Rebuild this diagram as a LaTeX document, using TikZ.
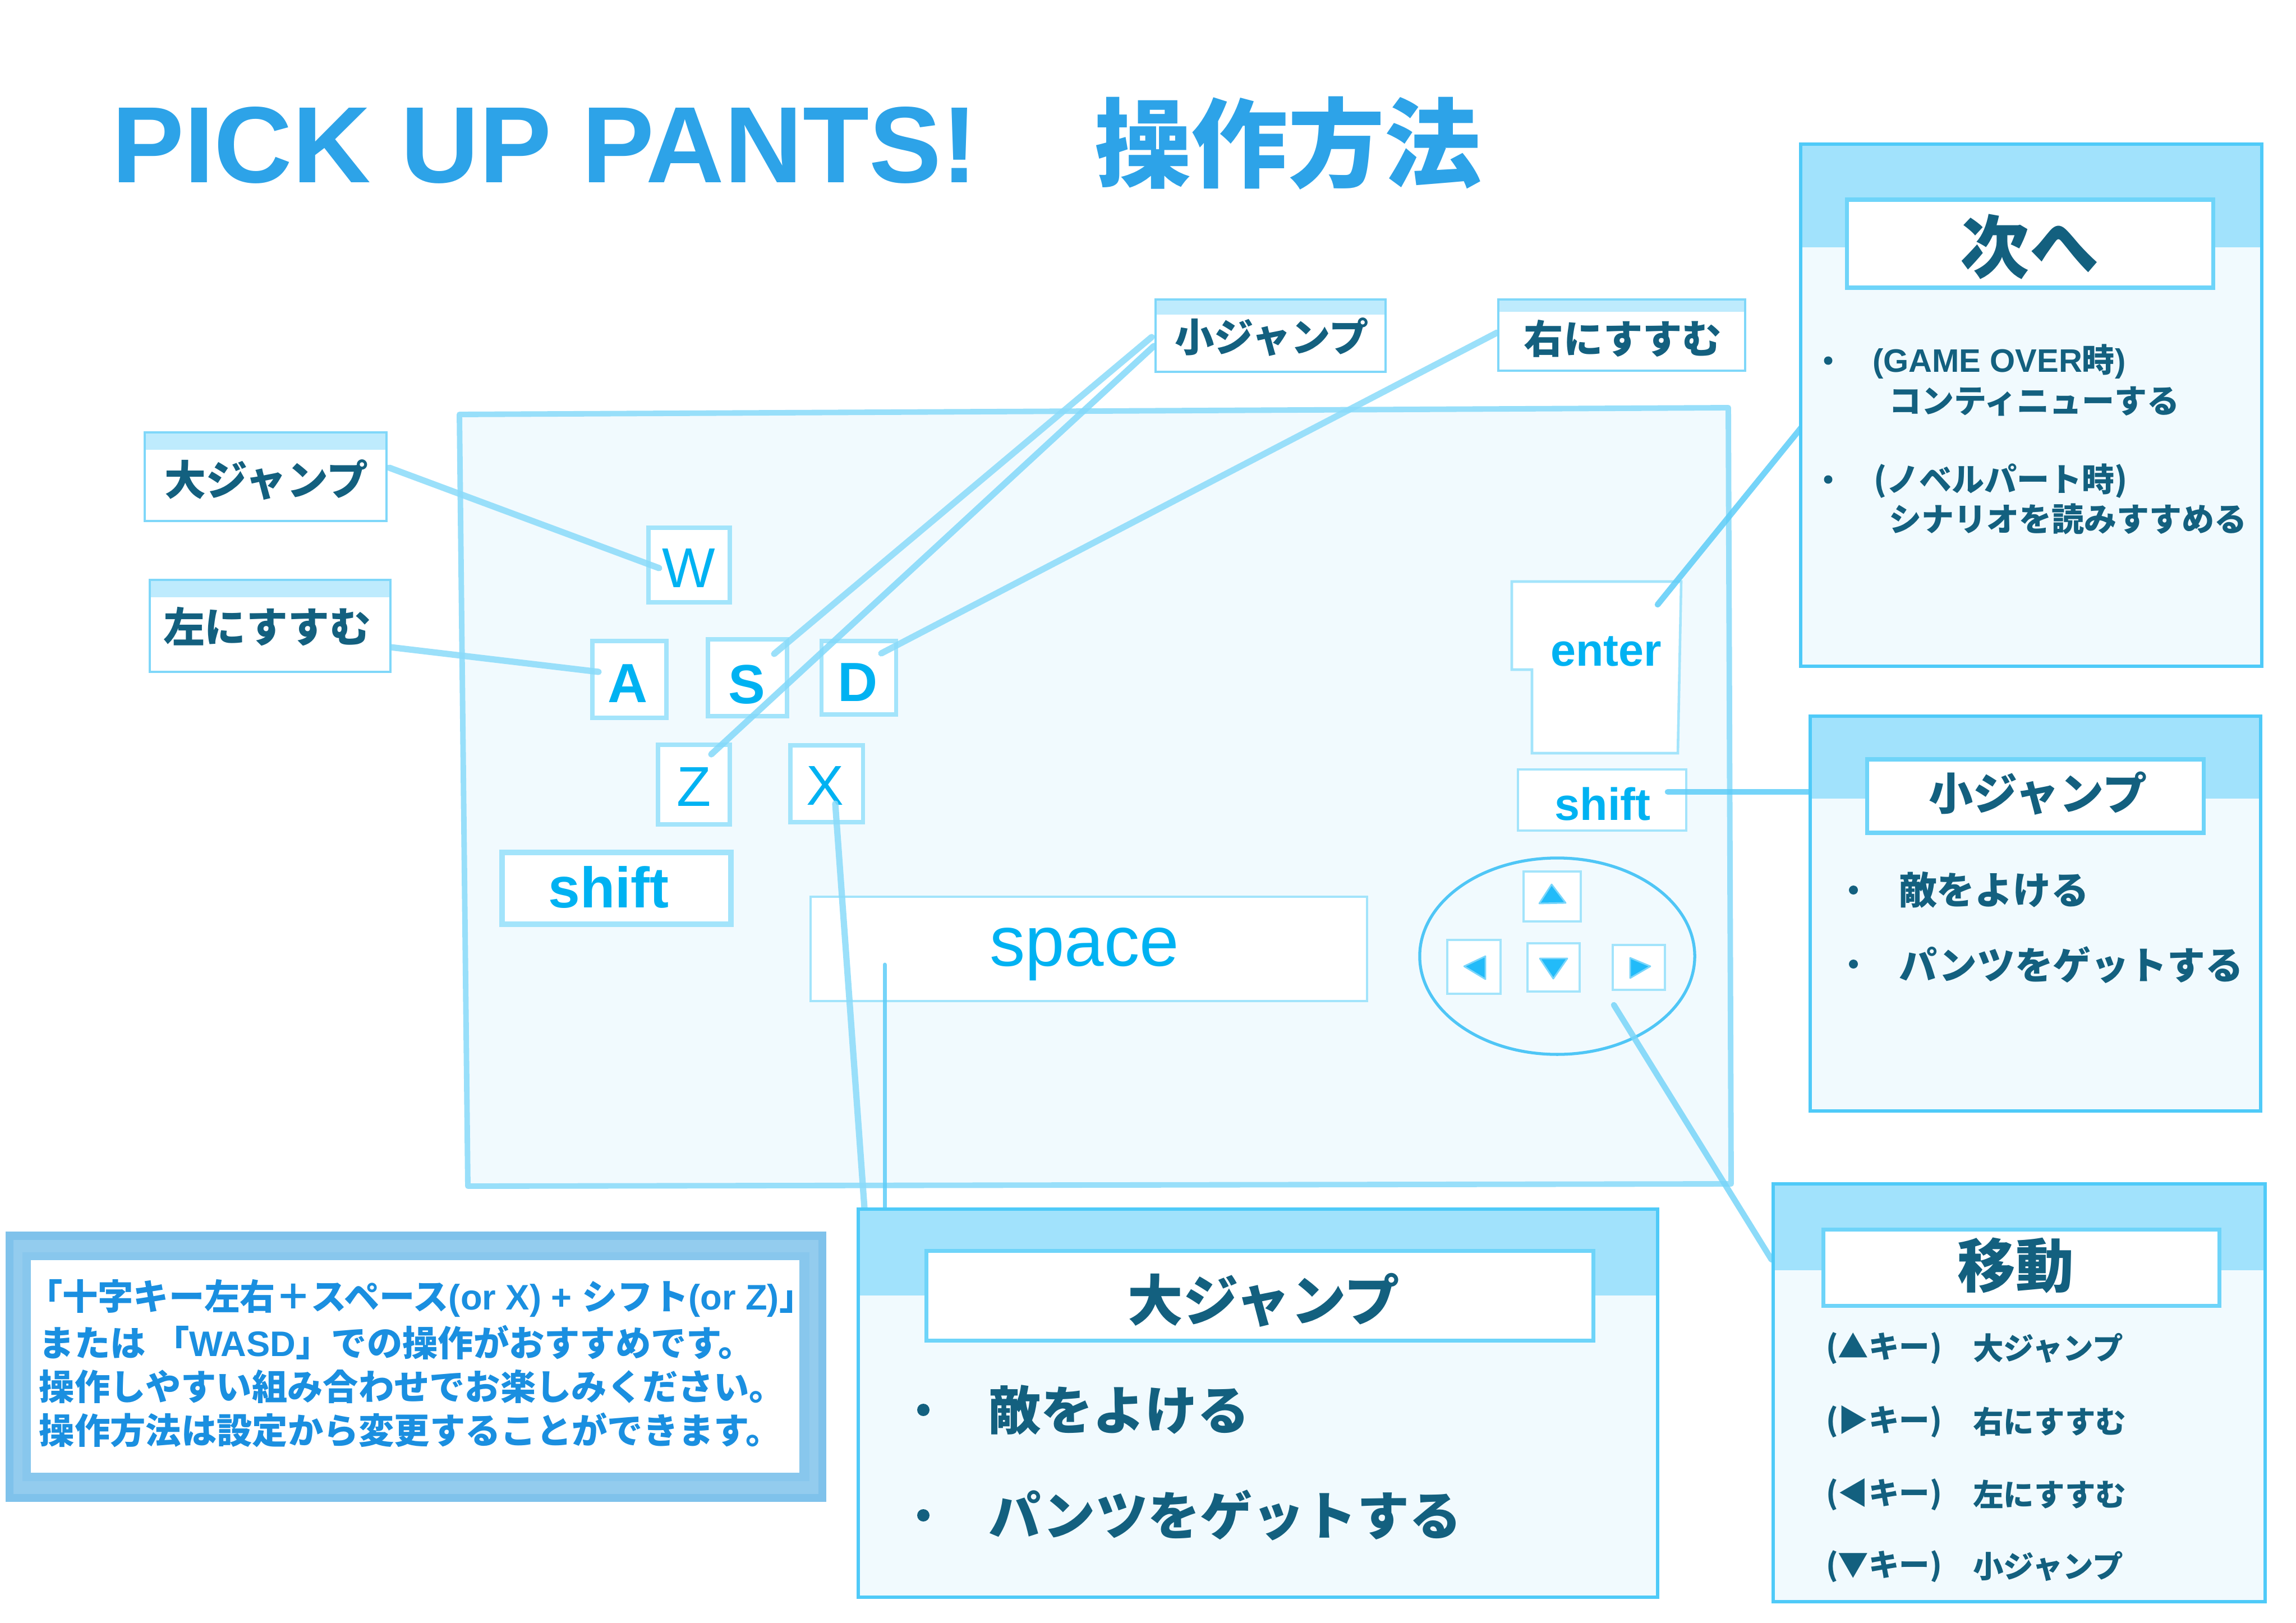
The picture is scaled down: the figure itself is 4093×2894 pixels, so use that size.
\documentclass[tikz,border=0pt]{standalone}
\usepackage{fontspec}
\usetikzlibrary{fit,shapes.geometric}
\newfontfamily\jp{Noto Sans CJK JP}
\newfontfamily\lat{Liberation Sans}
\newcommand\fsz[1]{\fontsize{#1pt}{#1pt}\selectfont}
\definecolor{ttl}{HTML}{2DA3E8}
\definecolor{dark}{HTML}{13607F}
\definecolor{keycol}{HTML}{00B2F2}
\definecolor{connc}{HTML}{8ADBFA}
\definecolor{conntwo}{HTML}{5ECDF8}
\definecolor{framec}{HTML}{98DFFA}
\definecolor{bodyf}{HTML}{F1FAFE}
\definecolor{bandc}{HTML}{A1E2FC}
\definecolor{pborder}{HTML}{4FCAF8}
\definecolor{ibord}{HTML}{6ED4F9}
\definecolor{lband}{HTML}{BEEBFD}
\definecolor{lbord}{HTML}{7FD7F9}
\definecolor{kbord}{HTML}{A3E4FB}
\definecolor{ellc}{HTML}{4FC6F6}
\definecolor{tric}{HTML}{22BBF9}
\definecolor{notec}{HTML}{1A8FE0}
\definecolor{nbone}{HTML}{7FC2EB}
\definecolor{nbtwo}{HTML}{93CCEE}
\definecolor{nbthree}{HTML}{88C7ED}
\tikzset{
  every node/.style={inner sep=0pt, outer sep=0pt},
  keybox/.style={draw=kbord, line width=2pt, fill=white},
  thinkey/.style={draw=kbord, line width=1.3pt, fill=white},
  labbox/.style={draw=lbord, line width=1.2pt},
  panbox/.style={draw=pborder, line width=1.8pt},
  ttlbox/.style={draw=ibord, line width=2pt, fill=white},
  conn/.style={draw=connc, line width=3.2pt, line cap=round, opacity=0.85},
  conntw/.style={draw=conntwo, line width=3pt, line cap=round, opacity=0.85},
  keytxt/.style={text=keycol, anchor=base},
  jdark/.style={text=dark},
  tri/.style={fill=tric, draw=tric!60, line width=0.8pt, line join=round},
  dot/.style={circle, fill=dark, draw=none},
}
\begin{document}
\begin{tikzpicture}[x=0.01cm,y=-0.01cm]
\useasboundingbox (0,0) rectangle (4093,2894);
\fill[white] (0,0) rectangle (4093,2894);

% title
\node[anchor=base west, text=ttl, font=\lat\bfseries\fsz{55}] (title) at (199,326) {PICK UP PANTS!};
\node[text=ttl, font=\jp\bfseries\fsz{49}] (titlejp) at (2296,255) {操作方法};

% keyboard frame
\filldraw[fill=bodyf, draw=framec, line width=2.8pt, line join=round]
  (819,739) coordinate (kbNW) -- (3081,727) coordinate (kbNE) -- (3086,2111) coordinate (kbSE) -- (834,2115) coordinate (kbSW) -- cycle;

% letter keys
\node[keybox, fit={(1156,941)(1301,1074)}] (Wk) {};
\node[keybox, fit={(1056,1143)(1188,1280)}] (Ak) {};
\node[keybox, fit={(1262,1140)(1403,1277)}] (Sk) {};
\node[keybox, fit={(1464,1143)(1597,1274)}] (Dk) {};
\node[keybox, fit={(1173,1328)(1301,1470)}] (Zk) {};
\node[keybox, fit={(1409,1329)(1538,1466)}] (Xk) {};
\node[draw=kbord, line width=3pt, fill=white, fit={(895,1520)(1303,1648)}] (lshiftk) {};
\node[keytxt, font=\lat\fsz{28.5}] (Wt) at (1228,1047) {W};
\node[keytxt, font=\lat\bfseries\fsz{28}] (At) at (1119,1252) {A};
\node[keytxt, font=\lat\bfseries\fsz{28}] (St) at (1331,1254) {S};
\node[keytxt, font=\lat\bfseries\fsz{28}] (Dt) at (1529,1250) {D};
\node[keytxt, font=\lat\fsz{28.5}] (Zt) at (1237,1437) {Z};
\node[keytxt, font=\lat\fsz{28.5}] (Xt) at (1471,1435) {X};
\node[keytxt, font=\lat\bfseries\fsz{29}] (lshiftt) at (1085,1618) {shift};

% space
\node[thinkey, fit={(1445,1599)(2437,1785)}] (spacek) {};
\node[keytxt, font=\lat\fsz{36}] (spacet) at (1933,1722) {space};

% enter
\filldraw[fill=white, draw=kbord, line width=1.3pt]
  (2695,1037) -- (2997,1037) -- (2991,1343) -- (2731,1343) -- (2731,1194) -- (2695,1194) -- cycle;
\node[keytxt, font=\lat\bfseries\fsz{23}] (entert) at (2863,1187) {enter};
\node[thinkey, fit={(2706,1372)(3006,1481)}] (rshiftk) {};
\node[keytxt, font=\lat\bfseries\fsz{23}] (rshiftt) at (2857,1462) {shift};

% arrow pad
\node[ellipse, draw=ellc, line width=1.5pt, minimum width=4.9cm, minimum height=3.5cm] (pad) at (2776,1705) {};
\node[thinkey, fit={(2716,1554)(2818,1643)}] (upk) {};
\node[thinkey, fit={(2580,1676)(2675,1772)}] (leftk) {};
\node[thinkey, fit={(2723,1682)(2816,1768)}] (downk) {};
\node[thinkey, fit={(2875,1685)(2968,1765)}] (rightk) {};
\filldraw[tri] (2744,1611) -- (2766,1577) -- (2791,1610) -- cycle;
\filldraw[tri] (2610,1723) -- (2648,1705) -- (2648,1746) -- cycle;
\filldraw[tri] (2745,1709) -- (2794,1709) -- (2769,1745) -- cycle;
\filldraw[tri] (2906,1708) -- (2942,1723) -- (2906,1744) -- cycle;

% connector end points
\coordinate (c1a) at (694,834);   \coordinate (c1b) at (1175,1013);
\coordinate (c2a) at (696,1154);  \coordinate (c2b) at (1067,1198);
\coordinate (c3a) at (2053,601);  \coordinate (c3b) at (1380,1166);
\coordinate (c4a) at (2057,617);  \coordinate (c4b) at (1268,1345);
\coordinate (c5a) at (2669,593);  \coordinate (c5b) at (1571,1165);
\coordinate (c6a) at (3213,760);  \coordinate (c6b) at (2955,1078);
\coordinate (c7a) at (2973,1412); \coordinate (c7b) at (3229,1412);
\coordinate (c8a) at (2877,1792); \coordinate (c8b) at (3158,2246);
\coordinate (c9a) at (1489,1433); \coordinate (c9b) at (1541,2154);
\coordinate (c10a) at (1577,1720);\coordinate (c10b) at (1577,2156);

\draw[conn] (c1a) -- (c1b);
\draw[conn] (c2a) -- (c2b);
\draw[conn] (c3a) -- (c3b);
\draw[conn, draw=connc!85!conntwo] (c4a) -- (c4b);
\draw[conn] (c5a) -- (c5b);
\draw[conntw] (c6a) -- (c6b);
\draw[conntw] (c7a) -- (c7b);
\draw[conntw, draw=connc!60!conntwo] (c8a) -- (c8b);
\draw[conn] (c9a) -- (c9b);
\draw[conntw, line width=2pt] (c10a) -- (c10b);

% small labels
\fill[white] (258,771) rectangle (689,929);
\fill[lband] (258,771) rectangle (689,802);
\node[labbox, fit={(258,771)(689,929)}] (labBig) {};
\node[jdark, font=\jp\bfseries\fsz{21}] (labBigT) at (475,856) {大ジャンプ};

\fill[white] (267,1034) rectangle (696,1198);
\fill[lband] (267,1034) rectangle (696,1065);
\node[labbox, fit={(267,1034)(696,1198)}] (labLeft) {};
\node[jdark, font=\jp\bfseries\fsz{21}] (labLeftT) at (476,1117) {左にすすむ};

\fill[white] (2060,534) rectangle (2470,663);
\fill[lband] (2060,534) rectangle (2470,561);
\node[labbox, fit={(2060,534)(2470,663)}] (labSmall) {};
\node[jdark, font=\jp\bfseries\fsz{20}] (labSmallT) at (2267,601) {小ジャンプ};

\fill[white] (2671,534) rectangle (3111,661);
\fill[lband] (2671,534) rectangle (3111,556);
\node[labbox, fit={(2671,534)(3111,661)}] (labRight) {};
\node[jdark, font=\jp\bfseries\fsz{20}] (labRightT) at (2893,604) {右にすすむ};

% panel: next
\fill[bodyf] (3210,257) rectangle (4032,1188);
\fill[bandc] (3210,257) rectangle (4032,441);
\node[panbox, fit={(3210,257)(4032,1188)}] (nextP) {};
\node[ttlbox, fit={(3292,356)(3945,513)}] (nextB) {};
\node[jdark, font=\jp\bfseries\fsz{35}] (nextT) at (3618,440) {次へ};
\node[dot, minimum size=0.15cm] (nd1) at (3259,643) {};
\node[dot, minimum size=0.15cm] (nd2) at (3259,855) {};
\node[jdark, anchor=west, font=\jp\bfseries\fsz{16.5}] (n1) at (3338,645) {{\lat\bfseries(GAME OVER}時{\lat\bfseries)}};
\node[jdark, anchor=west, font=\jp\bfseries\fsz{16.5}] (n2) at (3367,716) {コンティニューする};
\node[jdark, anchor=west, font=\jp\bfseries\fsz{16.5}] (n3) at (3340,858) {(ノベルパート時)};
\node[jdark, anchor=west, font=\jp\bfseries\fsz{16.5}] (n4) at (3367,926) {シナリオを読みすすめる};

% panel: small jump
\fill[bodyf] (3227,1277) rectangle (4030,1981);
\fill[bandc] (3227,1277) rectangle (4030,1424);
\node[panbox, fit={(3227,1277)(4030,1981)}] (sjP) {};
\node[ttlbox, fit={(3328,1354)(3928,1485)}] (sjB) {};
\node[jdark, font=\jp\bfseries\fsz{22.5}] (sjT) at (3633,1415) {小ジャンプ};
\node[dot, minimum size=0.16cm] (sd1) at (3304,1587) {};
\node[dot, minimum size=0.16cm] (sd2) at (3304,1719) {};
\node[jdark, anchor=west, font=\jp\bfseries\fsz{19.3}] (s1) at (3385,1587) {敵をよける};
\node[jdark, anchor=west, font=\jp\bfseries\fsz{19.3}] (s2) at (3385,1721) {パンツをゲットする};

% panel: big jump
\fill[bodyf] (1530,2156) rectangle (2955,2848);
\fill[bandc] (1530,2156) rectangle (2955,2310);
\node[panbox, fit={(1530,2156)(2955,2848)}] (bjP) {};
\node[ttlbox, fit={(1651,2230)(2840,2390)}] (bjB) {};
\node[jdark, font=\jp\bfseries\fsz{28}] (bjT) at (2253,2318) {大ジャンプ};
\node[dot, minimum size=0.22cm] (bd1) at (1646,2514) {};
\node[dot, minimum size=0.22cm] (bd2) at (1646,2702) {};
\node[jdark, anchor=west, font=\jp\bfseries\fsz{26.5}] (b1) at (1762,2514) {敵をよける};
\node[jdark, anchor=west, font=\jp\bfseries\fsz{26.5}] (b2) at (1762,2702) {パンツをゲットする};

% panel: move
\fill[bodyf] (3161,2111) rectangle (4038,2856);
\fill[bandc] (3161,2111) rectangle (4038,2265);
\node[panbox, fit={(3161,2111)(4038,2856)}] (mvP) {};
\node[ttlbox, fit={(3250,2192)(3956,2328)}] (mvB) {};
\node[jdark, font=\jp\bfseries\fsz{29.5}] (mvT) at (3593,2257) {移動};
\node[jdark, anchor=west, font=\jp\bfseries\fsz{15.5}] (m1k) at (3255,2404) {(▲キー)};
\node[jdark, anchor=west, font=\jp\bfseries\fsz{15.5}] (m1) at (3517,2404) {大ジャンプ};
\node[jdark, anchor=west, font=\jp\bfseries\fsz{15.5}] (m2k) at (3255,2535) {(▶キー)};
\node[jdark, anchor=west, font=\jp\bfseries\fsz{15.5}] (m2) at (3517,2535) {右にすすむ};
\node[jdark, anchor=west, font=\jp\bfseries\fsz{15.5}] (m3k) at (3255,2665) {(◀キー)};
\node[jdark, anchor=west, font=\jp\bfseries\fsz{15.5}] (m3) at (3517,2665) {左にすすむ};
\node[jdark, anchor=west, font=\jp\bfseries\fsz{15.5}] (m4k) at (3255,2793) {(▼キー)};
\node[jdark, anchor=west, font=\jp\bfseries\fsz{15.5}] (m4) at (3517,2793) {小ジャンプ};

% note box
\fill[nbone] (10,2196) rectangle (1473,2678);
\fill[nbtwo] (24,2211) rectangle (1459,2664);
\fill[nbthree] (40,2233) rectangle (1443,2641);
\node[fill=white, fit={(55,2247)(1425,2626)}] (noteB) {};
\node[text=notec, anchor=west, font=\jp\bfseries\fsz{18}] (l1) at (48,2315)
  {「十字キー左右＋スペース{\lat\bfseries(or X) + }シフト{\lat\bfseries(or Z)}」};
\node[text=notec, anchor=west, font=\jp\bfseries\fsz{18}] (l2) at (70,2394)
  {または\ 「{\lat\bfseries WASD}」での操作がおすすめです。};
\node[text=notec, anchor=west, font=\jp\bfseries\fsz{18}] (l3) at (70,2472)
  {操作しやすい組み合わせでお楽しみください。};
\node[text=notec, anchor=west, font=\jp\bfseries\fsz{18}] (l4) at (70,2550)
  {操作方法は設定から変更することができます。};
\end{tikzpicture}
\end{document}
